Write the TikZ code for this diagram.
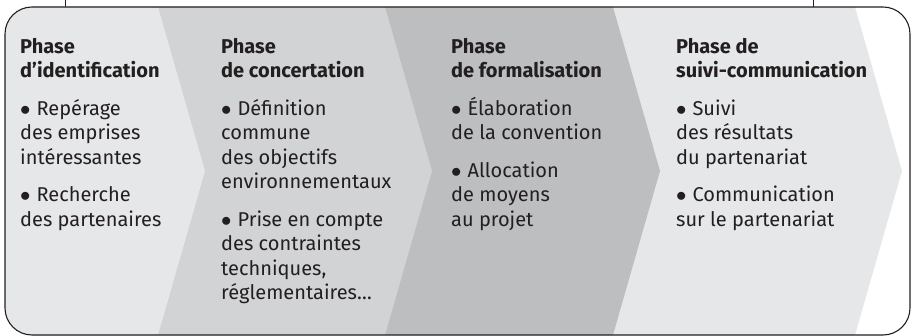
\documentclass[tikz,border=0pt]{standalone}
\usepackage{fontspec}
\setmainfont{Fira Sans}
\definecolor{inkgray}{HTML}{231F20}
\definecolor{palegray}{HTML}{E6E7E8}
\definecolor{midgray}{HTML}{D1D3D4}
\definecolor{darkgray}{HTML}{BCBEC0}

\newcommand{\puce}{$\bullet$\hspace{6pt}}

\tikzset{
  phasetext/.style={anchor=north west, align=left, text=inkgray, inner sep=0pt,
    font=\fontsize{20}{24.5}\selectfont},
}

\begin{document}
\begin{tikzpicture}[x=1pt,y=-1pt]
  \useasboundingbox (0,0) rectangle (912,336);

  % little ticks coming down onto the frame
  \draw[inkgray, line width=1pt] (65,0) -- (65,7);
  \draw[inkgray, line width=1pt] (813,0) -- (813,7);

  % chevrons, painted from the last one back to the first
  \begin{scope}
    \clip[rounded corners=27pt] (5,7) rectangle (910,335);
    \foreach \b/\c in {855/palegray, 613/darkgray, 385/midgray, 158/palegray}
      \fill[\c] (0,7) -- (\b,7) -- ({\b+47},171) -- (\b,335) -- (0,335) -- cycle;
  \end{scope}
  \draw[inkgray, line width=1.1pt, rounded corners=27pt] (5,7) rectangle (910,335);

  % the four phases
  \node[phasetext] (identif) at (20,38) {\textbf{Phase}\\\textbf{d’identification}\\[13pt]
    \puce Repérage\\des emprises\\intéressantes\\[13pt]
    \puce Recherche\\des partenaires};
  \node[phasetext] (concert) at (221,38) {\textbf{Phase}\\\textbf{de concertation}\\[13pt]
    \puce Définition\\commune\\des objectifs\\environnementaux\\[13pt]
    \puce Prise en compte\\des contraintes\\techniques,\\réglementaires…};
  \node[phasetext] (formal) at (451,38) {\textbf{Phase}\\\textbf{de formalisation}\\[13pt]
    \puce Élaboration\\de la convention\\[13pt]
    \puce Allocation\\de moyens\\au projet};
  \node[phasetext] (suivi) at (676,38) {\textbf{Phase de}\\\textbf{suivi-communication}\\[13pt]
    \puce Suivi\\des résultats\\du partenariat\\[13pt]
    \puce Communication\\sur le partenariat};
\end{tikzpicture}
\end{document}
